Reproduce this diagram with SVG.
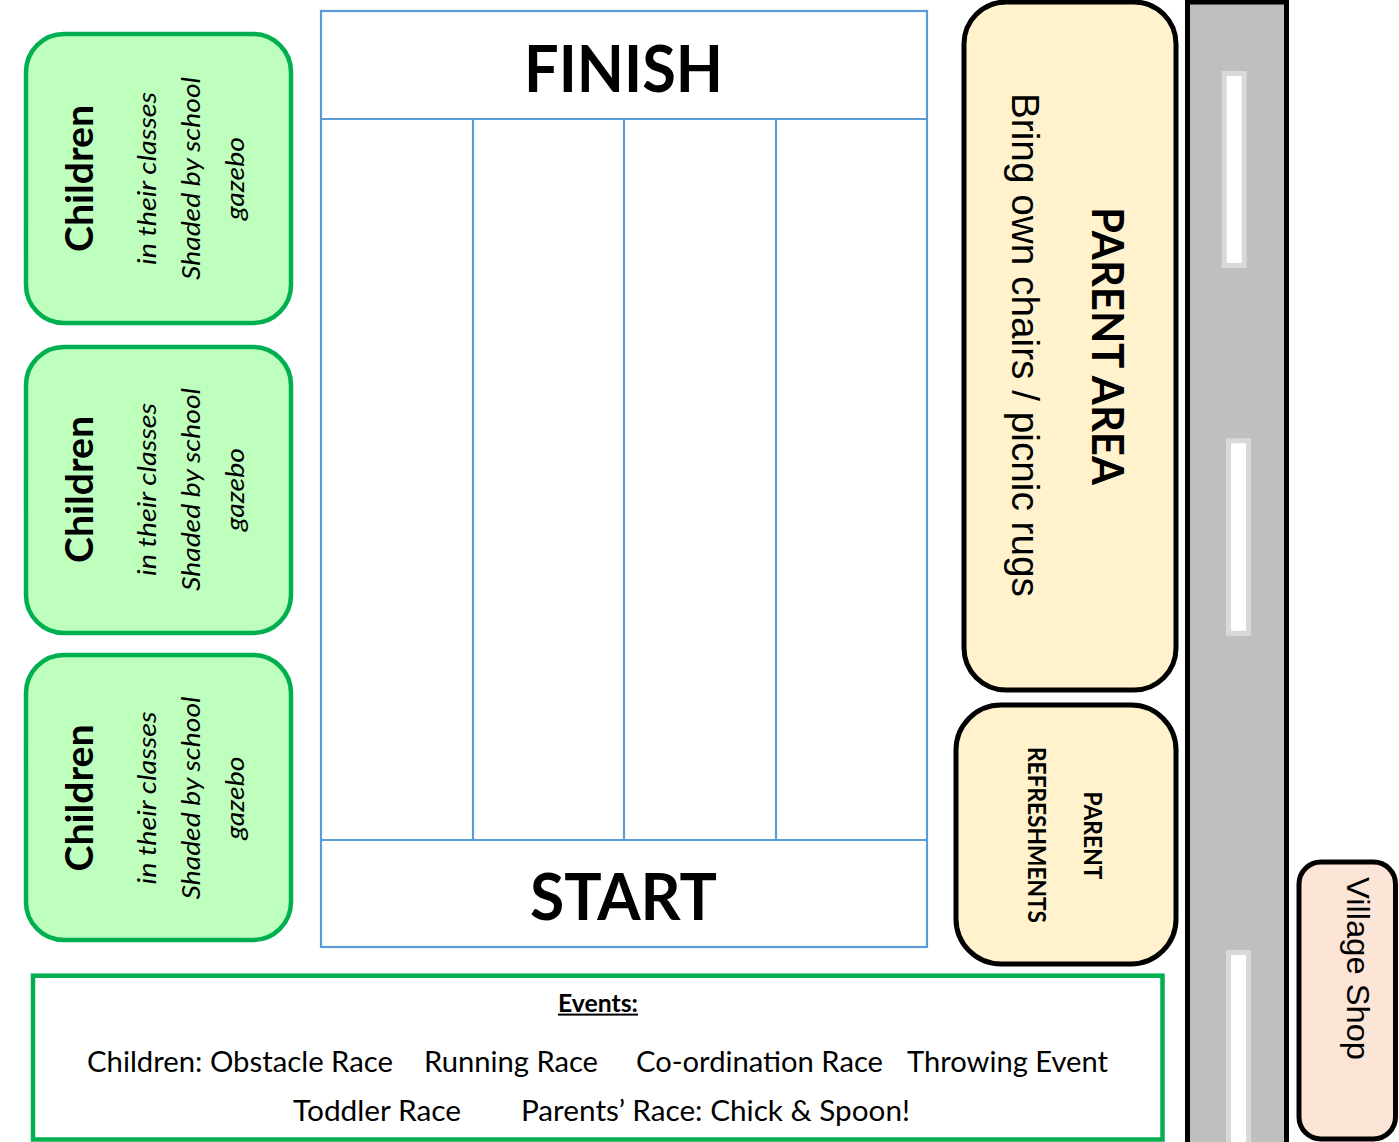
<svg xmlns="http://www.w3.org/2000/svg" width="1399" height="1142" viewBox="0 0 1399 1142">
  <style>
    .kids { fill: #BEFFBE; stroke: #00B050; stroke-width: 4.5; }
    .parent { fill: #FFF2CC; stroke: #000; stroke-width: 5; }
    .shop { fill: #FCE4D6; stroke: #000; stroke-width: 5; }
    .track { fill: #fff; stroke: #5B9BD5; stroke-width: 2.2; }
    .lane { stroke: #5B9BD5; stroke-width: 2.2; fill: none; }
    .road { fill: #BFBFBF; stroke: #000; stroke-width: 5; }
    .dash { fill: #fff; stroke: #D9D9D9; stroke-width: 5; }
    .events { fill: #fff; stroke: #00B050; stroke-width: 4.5; }
    .cal { font-family: Lato, "Liberation Sans", sans-serif; fill: #000; }
    .ari { font-family: "Liberation Sans", Arial, sans-serif; fill: #000; }
    .b { font-weight: bold; }
    .i { font-style: italic; }
    .kh { font-size: 38px; }
    .ks { font-size: 26px; }
    .big { font-size: 65px; }
    .ev { font-size: 29px; }
  </style>

  <g id="road">
    <rect class="road" x="1187.5" y="2" width="99" height="1150"/>
    <rect class="dash" x="1224.2" y="73.5" width="20" height="192"/>
    <rect class="dash" x="1228.5" y="440.8" width="20" height="192.5"/>
    <rect class="dash" x="1228.5" y="952.5" width="20" height="200"/>
  </g>

  <g id="children-1">
    <rect class="kids" x="26" y="34" width="265" height="289" rx="38"/>
    <g transform="translate(0,178.5)">
      <text class="cal b kh" transform="translate(93,0) rotate(-90)" text-anchor="middle" textLength="147" lengthAdjust="spacingAndGlyphs">Children</text>
      <text class="cal i ks" transform="translate(156,0) rotate(-90)" text-anchor="middle" textLength="173" lengthAdjust="spacingAndGlyphs">in their classes</text>
      <text class="cal i ks" transform="translate(200,0) rotate(-90)" text-anchor="middle" textLength="203" lengthAdjust="spacingAndGlyphs">Shaded by school</text>
      <text class="cal i ks" transform="translate(244,0) rotate(-90)" text-anchor="middle" textLength="83" lengthAdjust="spacingAndGlyphs">gazebo</text>
    </g>
  </g>

  <g id="children-2">
    <rect class="kids" x="26" y="347" width="265" height="286" rx="38"/>
    <g transform="translate(0,489.5)">
      <text class="cal b kh" transform="translate(93,0) rotate(-90)" text-anchor="middle" textLength="147" lengthAdjust="spacingAndGlyphs">Children</text>
      <text class="cal i ks" transform="translate(156,0) rotate(-90)" text-anchor="middle" textLength="173" lengthAdjust="spacingAndGlyphs">in their classes</text>
      <text class="cal i ks" transform="translate(200,0) rotate(-90)" text-anchor="middle" textLength="203" lengthAdjust="spacingAndGlyphs">Shaded by school</text>
      <text class="cal i ks" transform="translate(244,0) rotate(-90)" text-anchor="middle" textLength="83" lengthAdjust="spacingAndGlyphs">gazebo</text>
    </g>
  </g>

  <g id="children-3">
    <rect class="kids" x="26" y="655" width="265" height="285" rx="38"/>
    <g transform="translate(0,798)">
      <text class="cal b kh" transform="translate(93,0) rotate(-90)" text-anchor="middle" textLength="147" lengthAdjust="spacingAndGlyphs">Children</text>
      <text class="cal i ks" transform="translate(156,0) rotate(-90)" text-anchor="middle" textLength="173" lengthAdjust="spacingAndGlyphs">in their classes</text>
      <text class="cal i ks" transform="translate(200,0) rotate(-90)" text-anchor="middle" textLength="203" lengthAdjust="spacingAndGlyphs">Shaded by school</text>
      <text class="cal i ks" transform="translate(244,0) rotate(-90)" text-anchor="middle" textLength="83" lengthAdjust="spacingAndGlyphs">gazebo</text>
    </g>
  </g>

  <g id="track">
    <rect class="track" x="321" y="11" width="606" height="936"/>
    <line class="lane" x1="321" y1="119" x2="927" y2="119"/>
    <line class="lane" x1="321" y1="840" x2="927" y2="840"/>
    <line class="lane" x1="473" y1="119" x2="473" y2="840"/>
    <line class="lane" x1="624" y1="119" x2="624" y2="840"/>
    <line class="lane" x1="776" y1="119" x2="776" y2="840"/>
    <text class="cal b big" x="623.5" y="92" text-anchor="middle" textLength="199" lengthAdjust="spacingAndGlyphs">FINISH</text>
    <text class="cal b big" x="623.5" y="920" text-anchor="middle" textLength="187" lengthAdjust="spacingAndGlyphs">START</text>
  </g>

  <g id="parent-area">
    <rect class="parent" x="964" y="2" width="212" height="688" rx="42"/>
    <text class="cal b" font-size="43" transform="translate(1092,346) rotate(90)" text-anchor="middle" textLength="278" lengthAdjust="spacingAndGlyphs">PARENT AREA</text>
    <text class="ari" font-size="38.7" transform="translate(1012,345) rotate(90)" text-anchor="middle" textLength="504" lengthAdjust="spacingAndGlyphs">Bring own chairs / picnic rugs</text>
  </g>

  <g id="parent-refreshments">
    <rect class="parent" x="956" y="705" width="220" height="259" rx="45"/>
    <text class="cal b" font-size="24" transform="translate(1084,835.5) rotate(90)" text-anchor="middle" textLength="88" lengthAdjust="spacingAndGlyphs">PARENT</text>
    <text class="cal b" font-size="24" transform="translate(1028,835) rotate(90)" text-anchor="middle" textLength="176" lengthAdjust="spacingAndGlyphs">REFRESHMENTS</text>
  </g>

  <g id="village-shop">
    <rect class="shop" x="1299" y="862" width="96.5" height="277" rx="22"/>
    <text class="ari" font-size="32" transform="translate(1347,877) rotate(90)" textLength="183" lengthAdjust="spacingAndGlyphs">Village Shop</text>
  </g>

  <g id="events">
    <rect class="events" x="33" y="975.7" width="1129.5" height="163.8"/>
    <text class="cal b" font-size="24" x="598" y="1011.7" text-anchor="middle" textLength="80" lengthAdjust="spacingAndGlyphs">Events:</text>
    <rect x="558" y="1013.6" width="80" height="2" fill="#000"/>
    <text class="cal ev" x="87" y="1072" textLength="306" lengthAdjust="spacingAndGlyphs">Children: Obstacle Race</text>
    <text class="cal ev" x="424" y="1072" textLength="174" lengthAdjust="spacingAndGlyphs">Running Race</text>
    <text class="cal ev" x="636" y="1072" textLength="247" lengthAdjust="spacingAndGlyphs">Co-ordination Race</text>
    <text class="cal ev" x="907" y="1072" textLength="201" lengthAdjust="spacingAndGlyphs">Throwing Event</text>
    <text class="cal ev" x="293" y="1121" textLength="168" lengthAdjust="spacingAndGlyphs">Toddler Race</text>
    <text class="cal ev" x="521" y="1121" textLength="389" lengthAdjust="spacingAndGlyphs">Parents’ Race: Chick &amp; Spoon!</text>
  </g>

  <g id="connectors"/>
</svg>
